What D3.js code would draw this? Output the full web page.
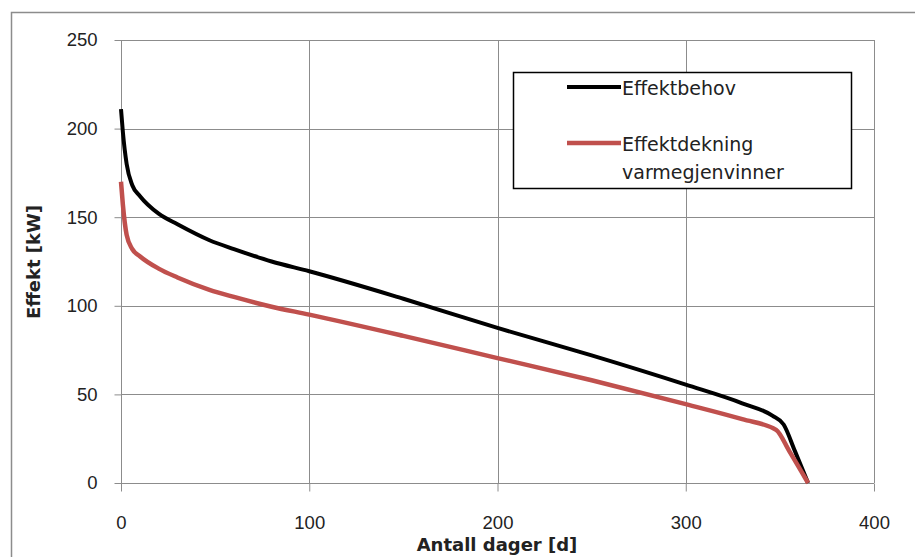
<!DOCTYPE html>
<html>
<head>
<meta charset="utf-8">
<script src="https://cdn.jsdelivr.net/npm/d3@7"></script>
<style>
  html, body { margin: 0; padding: 0; background: #fff; }
  svg { display: block; font-family: "DejaVu Sans", sans-serif; }
  .grid line { stroke: #8c8c8c; stroke-width: 1; }
  .axis path, .axis line { stroke: #8c8c8c; }
  .axis text { fill: #222; font-size: 18.5px; }
</style>
</head>
<body>
<svg id="chart" width="915" height="557"></svg>
<script>
// effect duration curves
const days = [0, 1, 3, 6, 10, 20, 30, 47, 60, 80, 100, 150, 200, 250, 300, 330, 346, 352, 358, 365];
const effektbehov = [211, 198, 180, 168, 162, 152, 146, 137, 132, 125, 119.5, 104, 87.5, 72, 55.5, 45, 38, 33, 18, 0];

const daysRed = [0, 1, 3, 6, 10, 20, 30, 47, 60, 80, 100, 150, 200, 250, 300, 330, 348, 355, 365];
const effektdekning = [170, 157, 140, 132, 128, 121, 116, 109, 105, 99.5, 95, 83, 70.5, 58, 44.5, 36, 30, 18, 0];

const xTicks = [0, 100, 200, 300, 400];
const yTicks = [0, 50, 100, 150, 200, 250];

const series = [
  { name: "Effektbehov", x: days, y: effektbehov, color: "#000000", width: 4 },
  { name: "Effektdekning\nvarmegjenvinner", x: daysRed, y: effektdekning, color: "#c0504d", width: 4.5 }
];

const svg = d3.select("#chart");
const margin = { left: 121, top: 40, right: 874, bottom: 483 };

const x = d3.scaleLinear().domain([0, 400]).range([margin.left, margin.right]);
const y = d3.scaleLinear().domain([0, 250]).range([margin.bottom, margin.top]);

// outer chart frame (right and bottom run off the picture)
svg.append("rect")
  .attr("x", 11.5).attr("y", 12.5)
  .attr("width", 1000).attr("height", 1000)
  .attr("fill", "none").attr("stroke", "#8c8c8c").attr("stroke-width", 1.5);

// grid
const grid = svg.append("g").attr("class", "grid");
grid.selectAll(".h").data(yTicks).join("line")
  .attr("x1", margin.left).attr("x2", margin.right)
  .attr("y1", (d) => Math.round(y(d)) + 0.5).attr("y2", (d) => Math.round(y(d)) + 0.5);
grid.selectAll(".v").data(xTicks).join("line")
  .attr("y1", margin.top).attr("y2", margin.bottom)
  .attr("x1", (d) => Math.round(x(d)) + 0.5).attr("x2", (d) => Math.round(x(d)) + 0.5);

// axes
svg.append("g").attr("class", "axis")
  .attr("transform", `translate(0,${Math.round(y(0)) + 0.5})`)
  .call(d3.axisBottom(x).tickValues(xTicks).tickSize(8).tickPadding(24).tickSizeOuter(0))
  .call((g) => g.select(".domain").remove());

svg.append("g").attr("class", "axis")
  .attr("transform", `translate(${Math.round(x(0)) + 0.5},0)`)
  .call(d3.axisLeft(y).tickValues(yTicks).tickSize(7).tickPadding(17).tickSizeOuter(0))
  .call((g) => g.select(".domain").remove());

// lines
const line = d3.line().curve(d3.curveMonotoneX);
svg.append("g").selectAll("path").data(series).join("path")
  .attr("fill", "none")
  .attr("stroke", (d) => d.color)
  .attr("stroke-width", (d) => d.width)
  .attr("stroke-linejoin", "round")
  .attr("d", (d) => line(d.x.map((v, i) => [x(v), y(d.y[i])])));

// axis titles
svg.append("text")
  .attr("x", 497).attr("y", 551)
  .attr("text-anchor", "middle")
  .attr("font-weight", "bold").attr("font-size", 18)
  .attr("fill", "#222")
  .text("Antall dager [d]");

svg.append("text")
  .attr("transform", "translate(40,262) rotate(-90)")
  .attr("text-anchor", "middle")
  .attr("font-weight", "bold").attr("font-size", 18)
  .attr("fill", "#222")
  .text("Effekt [kW]");

// legend
const legend = svg.append("g");
legend.append("rect")
  .attr("x", 513.5).attr("y", 72.5)
  .attr("width", 338).attr("height", 116)
  .attr("fill", "#fff").attr("stroke", "#000").attr("stroke-width", 1.5);

const entries = legend.selectAll("g").data(series).join("g")
  .attr("transform", (d, i) => `translate(0,${[87, 143][i]})`);
entries.append("line")
  .attr("x1", 567).attr("x2", 621)
  .attr("stroke", (d) => d.color).attr("stroke-width", (d) => d.width);
entries.append("text")
  .attr("x", 622).attr("y", 7.5)
  .attr("font-size", 19).attr("fill", "#222")
  .selectAll("tspan").data((d) => d.name.split("\n")).join("tspan")
  .attr("x", 622).attr("dy", (d, i) => (i ? 28.5 : 0))
  .text((d) => d);
</script>
</body>
</html>
